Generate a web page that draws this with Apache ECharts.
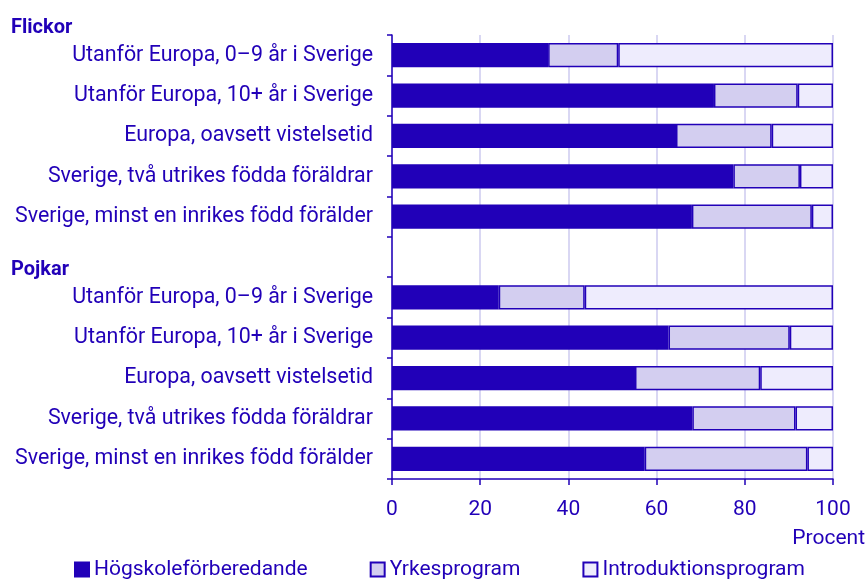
<!DOCTYPE html>
<html>
<head>
<meta charset="utf-8">
<script src="https://cdn.jsdelivr.net/npm/echarts@6/dist/echarts.min.js"></script>
<style>
  html, body { margin: 0; padding: 0; background: #fff; }
  #chart { width: 866px; height: 581px; }
</style>
</head>
<body>
<div id="chart"></div>
<script>
// rader (Flickor överst, tom rad för rubriken Pojkar)
const categories = [
  'Utanför Europa, 0–9 år i Sverige',
  'Utanför Europa, 10+ år i Sverige',
  'Europa, oavsett vistelsetid',
  'Sverige, två utrikes födda föräldrar',
  'Sverige, minst en inrikes född förälder',
  '',
  'Utanför Europa, 0–9 år i Sverige',
  'Utanför Europa, 10+ år i Sverige',
  'Europa, oavsett vistelsetid',
  'Sverige, två utrikes födda föräldrar',
  'Sverige, minst en inrikes född förälder'
]
const hogskole = [35.4, 73.0, 64.4, 77.4, 68.0, null, 24.2, 62.7, 55.1, 68.1, 57.3]
const yrkes = [15.9, 19.0, 21.7, 15.1, 27.2, null, 19.5, 27.5, 28.4, 23.4, 36.9]
const intro = [48.7, 8.0, 13.9, 7.5, 4.8, null, 56.3, 9.8, 16.5, 8.5, 5.8]
const xTicks = [0, 20, 40, 60, 80, 100]

const blue = '#2100b8'
const textColor = '#2100b8'
const font = 'Roboto'

const chart = echarts.init(document.getElementById('chart'))

function barSeries(name, data, color) {
  return {
    name: name,
    type: 'bar',
    stack: 'total',
    data: data,
    barCategoryGap: '40%',
    itemStyle: { color: color, borderColor: blue, borderWidth: 1.5 },
    emphasis: { disabled: true }
  }
}

chart.setOption({
  animation: false,
  textStyle: { fontFamily: font },
  grid: { left: 392, right: 33, top: 35, bottom: 102, outerBoundsMode: 'none' },
  xAxis: {
    type: 'value',
    min: xTicks[0],
    max: xTicks[xTicks.length - 1],
    interval: 20,
    axisLine: { show: true, lineStyle: { color: blue, width: 1.5 } },
    axisTick: { show: true, length: 6, lineStyle: { color: blue, width: 1.5 } },
    axisLabel: { color: textColor, fontSize: 21, margin: 20, fontFamily: font },
    splitLine: { show: true, lineStyle: { color: '#d9d7f3', width: 2 } },
    name: 'Procent',
    nameLocation: 'end',
    nameGap: 32,
    nameTextStyle: {
      color: textColor, fontSize: 21, fontFamily: font,
      align: 'right', verticalAlign: 'top', padding: [49, 0, 0, 0]
    }
  },
  yAxis: {
    type: 'category',
    inverse: true,
    data: categories,
    axisLine: { show: true, lineStyle: { color: blue, width: 1.5 } },
    axisTick: { show: true, length: 5, lineStyle: { color: blue, width: 1.5 } },
    axisLabel: { color: textColor, fontSize: 21.4, margin: 19, fontFamily: font },
    splitLine: { show: false }
  },
  legend: {
    left: 74,
    top: 559,
    padding: 0,
    itemWidth: 14,
    itemHeight: 14,
    itemGap: 62,
    icon: 'rect',
    textStyle: { color: textColor, fontSize: 21, fontFamily: font },
    data: ['Högskoleförberedande', 'Yrkesprogram', 'Introduktionsprogram']
  },
  graphic: [
    { type: 'text', left: 11, top: 18, style: { text: 'Flickor', fill: textColor, font: 'bold 20px Roboto' } },
    { type: 'text', left: 11, top: 260, style: { text: 'Pojkar', fill: textColor, font: 'bold 20px Roboto' } }
  ],
  series: [
    barSeries('Högskoleförberedande', hogskole, '#2100b8'),
    barSeries('Yrkesprogram', yrkes, '#d3cef0'),
    barSeries('Introduktionsprogram', intro, '#eeecfd')
  ]
})
</script>
</body>
</html>
